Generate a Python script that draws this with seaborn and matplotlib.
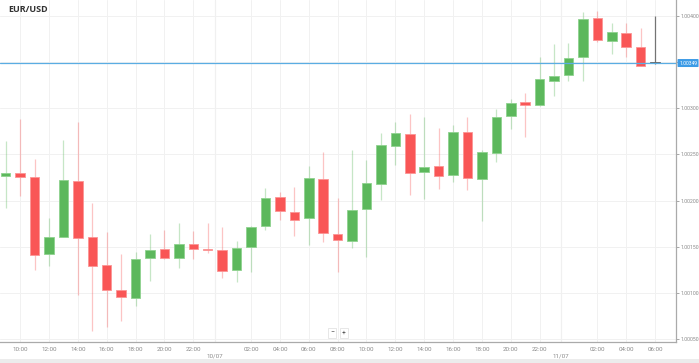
import numpy as np
import pandas as pd
import matplotlib
matplotlib.use("Agg")
import matplotlib.pyplot as plt
import matplotlib.transforms as mtransforms
from matplotlib.patches import Rectangle
import seaborn as sns

# hourly EUR/USD candles (first candle 09:00 on 09/07)
opens = [1.00227, 1.00230, 1.00226, 1.00142, 1.00161, 1.00221, 1.00160, 1.00130, 1.00103, 1.00094,
         1.00138, 1.00147, 1.00138, 1.00153, 1.00148, 1.00146, 1.00125, 1.00150, 1.00172, 1.00204,
         1.00188, 1.00181, 1.00223, 1.00164, 1.00156, 1.00191, 1.00218, 1.00259, 1.00272, 1.00231,
         1.00237, 1.00228, 1.00274, 1.00223, 1.00252, 1.00292, 1.00307, 1.00303, 1.00330, 1.00336,
         1.00355, 1.00398, 1.00373, 1.00382, 1.00366, 1.00349]
highs = [1.00265, 1.00288, 1.00245, 1.00181, 1.00266, 1.00285, 1.00197, 1.00166, 1.00142, 1.00144,
         1.00164, 1.00168, 1.00176, 1.00167, 1.00176, 1.00171, 1.00156, 1.00172, 1.00214, 1.00209,
         1.00215, 1.00237, 1.00253, 1.00203, 1.00255, 1.00244, 1.00273, 1.00285, 1.00294, 1.00290,
         1.00279, 1.00282, 1.00290, 1.00255, 1.00299, 1.00310, 1.00316, 1.00356, 1.00370, 1.00371,
         1.00404, 1.00405, 1.00392, 1.00392, 1.00387, 1.00400]
lows = [1.00192, 1.00205, 1.00125, 1.00129, 1.00160, 1.00098, 1.00059, 1.00063, 1.00069, 1.00086,
        1.00113, 1.00137, 1.00127, 1.00137, 1.00143, 1.00116, 1.00112, 1.00123, 1.00168, 1.00179,
        1.00162, 1.00152, 1.00155, 1.00123, 1.00149, 1.00139, 1.00201, 1.00238, 1.00206, 1.00202,
        1.00213, 1.00220, 1.00211, 1.00178, 1.00242, 1.00278, 1.00269, 1.00302, 1.00313, 1.00329,
        1.00329, 1.00372, 1.00359, 1.00356, 1.00346, 1.00348]
closes = [1.00230, 1.00225, 1.00141, 1.00161, 1.00222, 1.00159, 1.00129, 1.00103, 1.00096, 1.00137,
          1.00146, 1.00138, 1.00153, 1.00147, 1.00146, 1.00124, 1.00149, 1.00171, 1.00203, 1.00189,
          1.00179, 1.00224, 1.00165, 1.00157, 1.00190, 1.00219, 1.00260, 1.00273, 1.00230, 1.00236,
          1.00227, 1.00274, 1.00224, 1.00253, 1.00291, 1.00306, 1.00304, 1.00332, 1.00335, 1.00354,
          1.00397, 1.00374, 1.00383, 1.00366, 1.00346, 1.00349]
current_price = 1.00349
y_ticks = [1.00050, 1.00100, 1.00150, 1.00200, 1.00250, 1.00300, 1.00350, 1.00400]

times = pd.date_range("2022-07-09 09:00", periods=len(opens), freq="h")
df = pd.DataFrame({"time": times, "open": opens, "high": highs, "low": lows, "close": closes})
df["x"] = np.arange(len(df))

sns.set_theme(style="white")
plt.rcParams["font.family"] = ["Roboto", "DejaVu Sans"]

GREEN = "#5cb85c"
RED = "#f95656"
GRAY = "#666666"

fig = plt.figure(figsize=(6.99, 3.63), dpi=100)
ax = fig.add_axes([0, 21 / 363, 676 / 699, 342 / 363])

# x ticks every 2 hours, midnight replaced by the date
tick_pos, tick_lab, date_pos, date_lab = [], [], [], []
for x, t in zip(df["x"], df["time"]):
    if t.hour == 0:
        date_pos.append(x - 0.5)
        date_lab.append(t.strftime("%d/%m"))
        tick_pos.append(x - 0.5)
        tick_lab.append("")
    elif t.hour % 2 == 0:
        tick_pos.append(x)
        tick_lab.append(t.strftime("%H:%M"))

ax.set_xticks(tick_pos)
ax.set_xticklabels(tick_lab)
ax.set_yticks(y_ticks)
# the label under the price badge is hidden, as on the original chart
ax.set_yticklabels(["" if abs(v - current_price) < 0.0002 else f"{v:.5f}" for v in y_ticks])
ax.yaxis.tick_right()
ax.tick_params(axis="x", length=2, width=0.6, color="#999999", labelsize=4.5,
               labelcolor="#8a8a8a", pad=1.5)
ax.tick_params(axis="y", length=2, width=0.6, color="#999999", labelsize=3.7,
               labelcolor="#8a8a8a", pad=1)

ax.grid(True, color="#f1f1f1", lw=0.7)
for d in date_pos:
    ax.axvline(d, color="#e8e8e8", lw=0.8, zorder=0)

for side in ["top", "left"]:
    ax.spines[side].set_visible(False)
for side in ["right", "bottom"]:
    ax.spines[side].set_color("#aaaaaa")
    ax.spines[side].set_linewidth(0.9)

colors = np.where(df["close"] > df["open"], GREEN, np.where(df["close"] < df["open"], RED, GRAY))
edges = np.where(df["close"] > df["open"], "#8fd28f", np.where(df["close"] < df["open"], "#fb9595", GRAY))

# wicks
for x, lo, hi, c in zip(df["x"], df["low"], df["high"], colors):
    ax.vlines(x, lo, hi, color=c, lw=0.9, alpha=(0.9 if c == GRAY else 0.35), zorder=2)

# bodies
bottoms = np.minimum(df["open"], df["close"])
heights = np.maximum(np.abs(df["close"] - df["open"]), 0.000008)
ax.bar(df["x"], heights, bottom=bottoms, width=0.66, color=colors, edgecolor=edges,
       linewidth=0.6, zorder=3)

ax.axhline(current_price, color="#5aade3", lw=0.9, zorder=4)

ax.set_xlim(-0.395, 46.45)
ax.set_ylim(1.000467, 1.004173)

# date labels under the hour labels
trans = mtransforms.blended_transform_factory(ax.transData, ax.transAxes)
for d, lab in zip(date_pos, date_lab):
    ax.text(d, -0.041, lab, transform=trans, ha="center", va="center",
            fontsize=4.5, color="#8a8a8a", clip_on=False)

# current price badge
ax.annotate(f"{current_price:.5f}", xy=(1.0, current_price), xycoords=("axes fraction", "data"),
            xytext=(2.2, 0), textcoords="offset points", ha="left", va="center",
            fontsize=3.6, color="white", zorder=10, annotation_clip=False,
            bbox=dict(boxstyle="round,pad=0.3,rounding_size=0.15", fc="#3d9be6", ec="none"))

fig.text(8 / 699, 1 - 10 / 363, "EUR/USD", ha="left", va="center", fontsize=6.5,
         fontweight="bold", color="#333333", family=["Open Sans", "DejaVu Sans"])

# zoom buttons
for px, sym in [(332, "\u2212"), (344, "+")]:
    fig.text(px / 699, 1 - 333 / 363, sym, ha="center", va="center", fontsize=5,
             color="#555555", bbox=dict(boxstyle="square,pad=0.25", fc="white", ec="#dddddd", lw=0.5))

fig.patches.append(Rectangle((0, 0), 1, 4 / 363, transform=fig.transFigure,
                             facecolor="#ececec", edgecolor="none"))

fig.savefig("out.png", dpi=100)
